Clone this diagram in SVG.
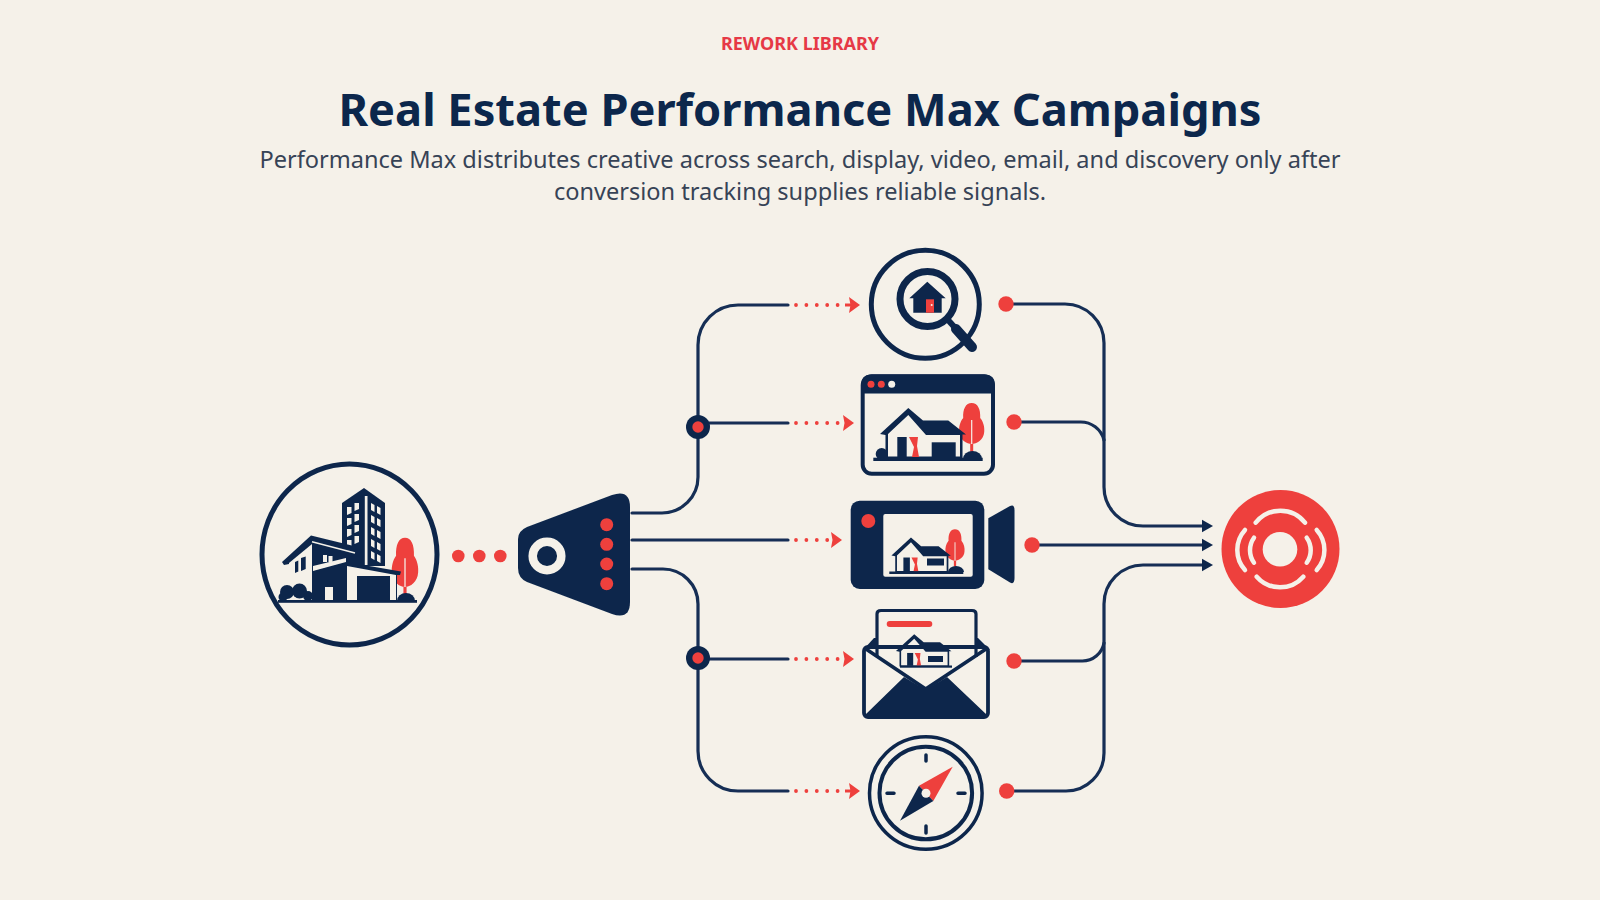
<svg xmlns="http://www.w3.org/2000/svg" width="1600" height="900" viewBox="0 0 1600 900">
<style>
.bg{fill:#f5f1e9}
.n{fill:#0c274c}
.r{fill:#ee403d}
.p{fill:#f5f1e9}
.ring{fill:none;stroke:#0c274c}
.wire{fill:none;stroke:#142f55;stroke-width:3.2;stroke-linecap:round}
.in{marker-end:url(#na)}
.dots{fill:none;stroke:#ee403d;stroke-width:3.8;stroke-linecap:round;stroke-dasharray:0 10.4}
.stem{stroke:#ee403d;stroke-width:3}
text{font-family:"Noto Sans","Open Sans",sans-serif;text-anchor:middle}
</style>
<defs>
<filter id="soft" x="-5%" y="-5%" width="110%" height="110%"><feGaussianBlur stdDeviation="0.45"/></filter>
<marker id="na" markerUnits="userSpaceOnUse" markerWidth="12" markerHeight="14" refX="5" refY="7" orient="auto"><path d="M0 .8L11 7L0 13.2Z" fill="#0c274c"/></marker>
<!-- red arrowhead, origin at the tip -->
<path id="rh" class="r" d="M-11 -8L0 0L-11 8L-9.500 0Z"/>
<!-- small house, origin on the ground line below its centre -->
<g id="house">
<path class="n" d="M-45 -24L-16.700 -50L-2 -37.500H23.300L41 -23.500H37.500V0H-39.500V-23Z"/>
<path class="p" d="M-37 -24L-16.700 -43L1 -23H35V-1.500H-37Z"/>
<path class="n" d="M-27.700 -21H-18.300V-1H-27.700Z"/>
<path class="r" d="M-16 -21H-7L-8 -12L-6 -1H-13L-11 -11Z"/>
</g>
<g id="tree">
<path class="r" d="M0 -41C6 -41 9 -35 8.500 -26C12 -22 13 -16 12.500 -12C12 -4 5 0 0 0C-5 0 -12 -4 -12.500 -12C-13 -16 -12 -22 -8.500 -26C-9 -35 -6 -41 0 -41Z"/>
<path class="r" d="M-1.500 0H1.500V8H-1.500Z"/>
<path d="M0 -24V0" stroke="#f5f1e9" stroke-width="1.200"/>
</g>
</defs>
<rect class="bg" width="1600" height="900"/>

<g id="header">
<text x="800" y="50" font-size="18" font-weight="700" fill="#e63946">REWORK LIBRARY</text>
<text x="800" y="125.500" font-size="45.200" font-weight="700" fill="#0c274c">Real Estate Performance Max Campaigns</text>
<text x="800" y="168" font-size="23.550" fill="#374356">Performance Max distributes creative across search, display, video, email, and discovery only after</text>
<text x="800" y="200" font-size="23.550" fill="#374356">conversion tracking supplies reliable signals.</text>
</g>

<g filter="url(#soft)">
<g id="connectors">
<path class="wire" d="M632 513H662A36 36 0 0 0 698 477V345A40 40 0 0 1 738 305H788"/>
<path class="wire" d="M698 423H788"/>
<path class="wire" d="M632 540H788"/>
<path class="wire" d="M632 569H663A35 35 0 0 1 698 604V751A40 40 0 0 0 738 791H788"/>
<path class="wire" d="M698 659H788"/>
<path class="wire in" d="M1006 304H1065A39 39 0 0 1 1104 343V487A39 39 0 0 0 1143 526H1207"/>
<path class="wire" d="M1014 422H1080A24 24 0 0 1 1104 440"/>
<path class="wire in" d="M1032 545H1207"/>
<path class="wire" d="M1014 661H1082A22 22 0 0 0 1104 643"/>
<path class="wire in" d="M1006 791H1066A38 38 0 0 0 1104 753V604A39 39 0 0 1 1143 565H1207"/>
<path class="dots" d="M796 305H838"/><path class="stem" d="M845 305H852"/><use href="#rh" x="860" y="305"/>
<path class="dots" d="M796 423H838"/><use href="#rh" x="854" y="423"/>
<path class="dots" d="M796 540H828"/><use href="#rh" x="842" y="540"/>
<path class="dots" d="M796 659H838"/><use href="#rh" x="854" y="659"/>
<path class="dots" d="M796 791H838"/><path class="stem" d="M845 791H852"/><use href="#rh" x="860" y="791"/>
<circle class="n" cx="698" cy="427" r="12"/><circle class="r" cx="698" cy="427" r="5.700"/>
<circle class="n" cx="698" cy="658" r="12"/><circle class="r" cx="698" cy="658" r="5.700"/>
<circle class="r" cx="458.300" cy="556" r="6.300"/><circle class="r" cx="479.300" cy="556" r="6.300"/><circle class="r" cx="500.300" cy="556" r="6.300"/>
<circle class="r" cx="1006" cy="304" r="7.700"/><circle class="r" cx="1014" cy="422" r="7.700"/><circle class="r" cx="1032" cy="545" r="7.700"/><circle class="r" cx="1014" cy="661" r="7.700"/><circle class="r" cx="1006.700" cy="791" r="7.700"/>
</g>

<g id="property">
<ellipse class="ring" cx="349.500" cy="554.500" rx="87.500" ry="90.500" stroke-width="5"/>
<use href="#tree" transform="translate(405 587) scale(1.050 1.200)"/>
<path class="n" d="M342 503L364 488L385 503V566H342Z"/>
<path class="p" d="M364.800 496H367.500V565H364.800Z"/>
<path class="p" d="M347 507h4.500v6l-4.500 2ZM354.500 503h4.500v6l-4.500 2ZM347 518h4.500v6l-4.500 2ZM354.500 514h4.500v6l-4.500 2ZM347 529h4.500v6l-4.500 2ZM354.500 525h4.500v6l-4.500 2ZM347 540h4.500v6l-4.500 2ZM354.500 536h4.500v6l-4.500 2ZM371 503l3.500 2v7l-3.500 -2ZM377 506l3.500 2v7l-3.500 -2ZM371 515l3.500 2v7l-3.500 -2ZM377 518l3.500 2v7l-3.500 -2ZM371 527l3.500 2v7l-3.500 -2ZM377 530l3.500 2v7l-3.500 -2ZM371 539l3.500 2v7l-3.500 -2ZM377 542l3.500 2v7l-3.500 -2ZM371 551l3.500 2v7l-3.500 -2ZM377 554l3.500 2v7l-3.500 -2Z"/>
<path class="n" d="M282 562L311 535.500L362 548L360 553L355 553V566L313 571V602H289V564L284 565Z"/>
<path class="p" d="M289 563L312 544V602H289Z"/>
<path class="n" d="M295 562l3.300 -1.500v11l-3.300 1.500ZM301 558l4.700 -1.500v12.500l-4.700 2Z"/>
<path d="M312 541.700L355 553" stroke="#f5f1e9" stroke-width="1.500"/>
<path class="p" d="M323 555h4v7h-4ZM328.500 556h4v6h-4Z"/>
<path class="p" d="M313 566L346 558V563L313 571.500Z"/>
<path class="n" d="M313 571L346 562L401 571.500L400 575H397V602H313Z"/>
<path class="p" d="M347 566L396 575V601H390V576H357V601H347Z"/>
<path class="p" d="M325 587h8v14h-8Z"/>
<circle class="n" cx="287" cy="592" r="7"/><circle class="n" cx="299.500" cy="591" r="7.500"/><circle class="n" cx="308" cy="596" r="5"/><circle class="n" cx="283" cy="597" r="4.500"/>
<path class="n" d="M397 601A9 8 0 0 1 415 601Z"/>
<rect class="n" x="278" y="600" width="139" height="2.800"/>
</g>

<g id="hub">
<path class="n" d="M527 527L612 495Q630 489 630 507V602Q630 620 612 614L527 582Q518 578 518 568V539Q518 531 527 527Z"/>
<circle cx="547" cy="556" r="14.300" fill="none" stroke="#f5f1e9" stroke-width="8.500"/>
<circle class="r" cx="606.700" cy="524.700" r="6.500"/><circle class="r" cx="606.700" cy="544.300" r="6.500"/><circle class="r" cx="606.700" cy="564" r="6.500"/><circle class="r" cx="606.700" cy="583.700" r="6.500"/>
</g>

<g id="search">
<circle class="ring" cx="925.300" cy="304.300" r="54" stroke-width="5"/>
<circle class="ring" cx="927.500" cy="299" r="27.500" stroke-width="7"/>
<path stroke="#0c274c" stroke-width="6" d="M948 320L958 331"/>
<path stroke="#0c274c" stroke-width="10" stroke-linecap="round" d="M956 329L972 347"/>
<path class="n" d="M909.300 298.300L927.300 281.700L945.700 298.300H941.700V312.700H913.300V298.300Z"/>
<rect class="r" x="926" y="299.300" width="8" height="13.400"/>
<circle class="p" cx="931.700" cy="305" r="1"/>
</g>

<g id="display">
<rect x="862.700" y="376.300" width="130.300" height="97.400" rx="9" fill="none" stroke="#0c274c" stroke-width="4"/>
<path class="n" d="M861 385Q861 374.500 871 374.500H985Q995 374.500 995 385V393.500H861Z"/>
<circle class="r" cx="871" cy="384.300" r="3.500"/><circle class="r" cx="881.300" cy="384.300" r="3.500"/><circle class="p" cx="891.700" cy="384.300" r="3.500"/>
<use href="#tree" transform="translate(971.700 444)"/>
<use href="#house" transform="translate(925 458)"/>
<rect class="n" x="931.700" y="442.300" width="24" height="15.700"/>
<circle class="n" cx="881.700" cy="454" r="6"/>
<path class="n" d="M963 459A9.500 8 0 0 1 982 459Z"/>
<rect class="n" x="873.300" y="457.700" width="109.400" height="3.300"/>
</g>

<g id="video">
<rect class="n" x="850.700" y="500.700" width="133.600" height="88.300" rx="9"/>
<rect class="p" x="883.300" y="514" width="89.400" height="62.700" rx="2"/>
<circle class="r" cx="868.300" cy="521" r="7"/>
<path class="n" d="M988.300 518.300L1010 506Q1014.500 504 1014.500 510V578Q1014.500 585 1010 582.500L988.300 569.300Z"/>
<use href="#tree" transform="translate(955 560.500) scale(.760)"/>
<use href="#house" transform="translate(922.500 572) scale(.690)"/>
<rect class="n" x="927" y="558.500" width="17" height="7"/>
<path class="n" d="M948 572A8 6 0 0 1 964 572Z"/>
<rect class="n" x="889.300" y="571.500" width="74" height="2.500"/>
</g>

<g id="email">
<path class="n" d="M863 650L874 638H978L990 650Z"/>
<rect class="p" x="864" y="647" width="124" height="70"/>
<path class="p" d="M877 611H975V656L926 688L877 656Z"/>
<path d="M877 657V614Q877 610.500 881 610.500H972Q976 610.500 976 614V657" fill="none" stroke="#0c274c" stroke-width="3.200"/>
<rect class="r" x="886.700" y="621" width="45.600" height="6" rx="3"/>
<use href="#house" transform="translate(925 666.500) scale(.645)"/>
<rect class="n" x="928" y="656" width="15" height="6"/>
<rect class="n" x="900" y="665.500" width="52" height="2.200"/>
<path class="n" d="M865 715L904 677L925.700 690L947 677L987 715V717H865Z"/>
<path d="M864.500 648L925.700 689L987.500 648" fill="none" stroke="#0c274c" stroke-width="3.600"/>
<rect x="864" y="647" width="124" height="70" rx="4" fill="none" stroke="#0c274c" stroke-width="3.800"/>
</g>

<g id="discovery">
<circle class="ring" cx="925.800" cy="793" r="56.300" stroke-width="3.500"/>
<circle class="ring" cx="925.800" cy="793" r="46.300" stroke-width="4"/>
<path stroke="#0c274c" stroke-width="3.500" stroke-linecap="round" d="M926 755V761M926 826V833M887 793.300H894M958 793.300H965"/>
<path class="r" d="M952.700 766.700L919 785.700L933.300 801Z"/>
<path class="n" d="M900 820.700L919 785.700L933.300 801Z"/>
<circle class="p" cx="926" cy="793.300" r="4.500"/>
</g>

<g id="result">
<circle class="r" cx="1280.500" cy="549" r="59"/>
<circle class="p" cx="1280" cy="549.300" r="17.300"/>
<g fill="none" stroke="#f5f1e9" stroke-width="4.500" stroke-linecap="round">
<path d="M1255.700 522.700A31.300 31.300 0 0 1 1305 522.700"/>
<path d="M1256.700 576.700A30.900 30.900 0 0 0 1303.300 576.700"/>
<path d="M1245 530A29.800 29.800 0 0 0 1245 570"/>
<path d="M1316.700 530A29.800 29.800 0 0 1 1316.700 570"/>
<path d="M1254 537.700A21.500 21.500 0 0 0 1254 562.700"/>
<path d="M1306.700 537.700A21.500 21.500 0 0 1 1306.700 562.700"/>
</g>
</g>
</g>
</svg>
